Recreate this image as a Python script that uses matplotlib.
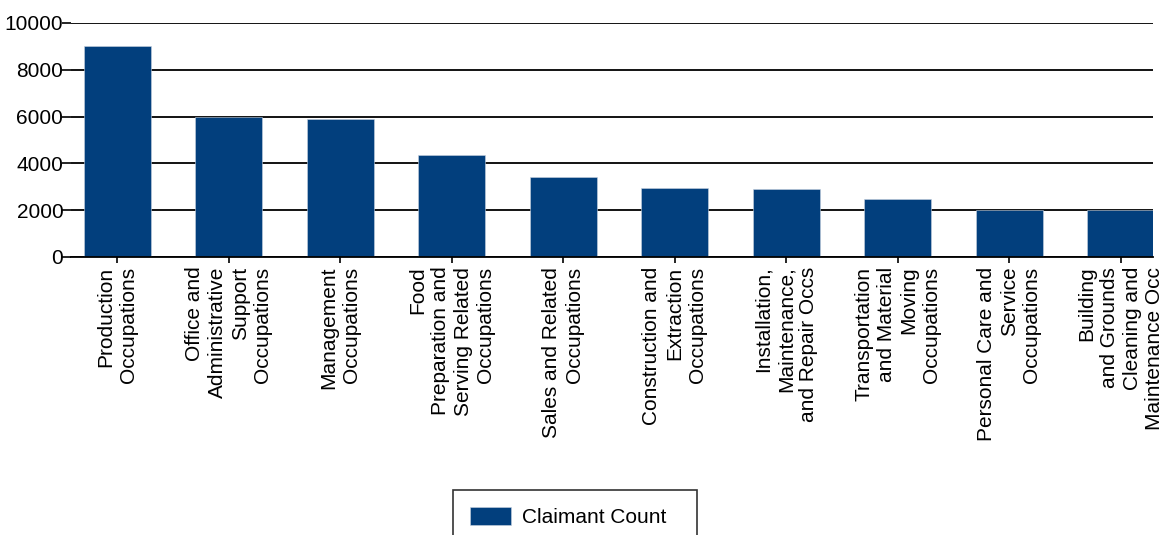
import numpy as np
import matplotlib.pyplot as plt

plt.rcParams['font.family'] = ['Liberation Sans', 'DejaVu Sans']

categories = [
    "Production\nOccupations",
    "Office and\nAdministrative\nSupport\nOccupations",
    "Management\nOccupations",
    "Food\nPreparation and\nServing Related\nOccupations",
    "Sales and Related\nOccupations",
    "Construction and\nExtraction\nOccupations",
    "Installation,\nMaintenance,\nand Repair Occs",
    "Transportation\nand Material\nMoving\nOccupations",
    "Personal Care and\nService\nOccupations",
    "Building\nand Grounds\nCleaning and\nMaintenance Occ",
]
claimant_count = [9030, 5995, 5910, 4345, 3405, 2935, 2905, 2480, 2010, 1995]
y_ticks = [0, 2000, 4000, 6000, 8000, 10000]

bar_color = "#023f7d"

fig = plt.figure(figsize=(11.65, 5.35), dpi=100)
ax = fig.add_axes([71 / 1165, 1 - 257 / 535, (1153 - 71) / 1165, (257 - 23) / 535])

x = np.arange(len(categories))
ax.bar(x, claimant_count, width=0.6, color=bar_color, label="Claimant Count",
       zorder=3, edgecolor="#c8d3e0", linewidth=0.4)

ax.set_ylim(0, 10000)
ax.set_xlim(-0.415, 9.29)
ax.set_yticks(y_ticks)
ax.set_yticklabels([str(v) for v in y_ticks], fontsize=15)
ax.yaxis.grid(True, color="black", linewidth=1.3, zorder=0)
ax.set_axisbelow(True)

ax.set_xticks(x)
ax.set_xticklabels(categories, rotation=90, fontsize=15, ha="center", va="top",
                   multialignment="right", linespacing=1.25)

for s in ["left", "right", "top"]:
    ax.spines[s].set_visible(False)
ax.spines["bottom"].set_color("black")
ax.spines["bottom"].set_linewidth(1.3)
ax.spines["bottom"].set_zorder(4)

ax.tick_params(axis="y", length=6.5, width=1.2, pad=-1, color="black")
ax.tick_params(axis="x", length=4.5, width=1.2, pad=2.5, color="black")

# legend box: x 453..697 px, top at y 490 px
leg = fig.legend(loc="upper left",
                 bbox_to_anchor=(453 / 1165, 1 - 490 / 535, 244 / 1165, 0.0),
                 mode="expand", fontsize=15, frameon=True, fancybox=False,
                 edgecolor="black", handlelength=2.0, handleheight=1.0,
                 borderpad=0.8, borderaxespad=0, handletextpad=0.5)
leg.get_frame().set_linewidth(1.2)

fig.savefig("out.png", dpi=100)
